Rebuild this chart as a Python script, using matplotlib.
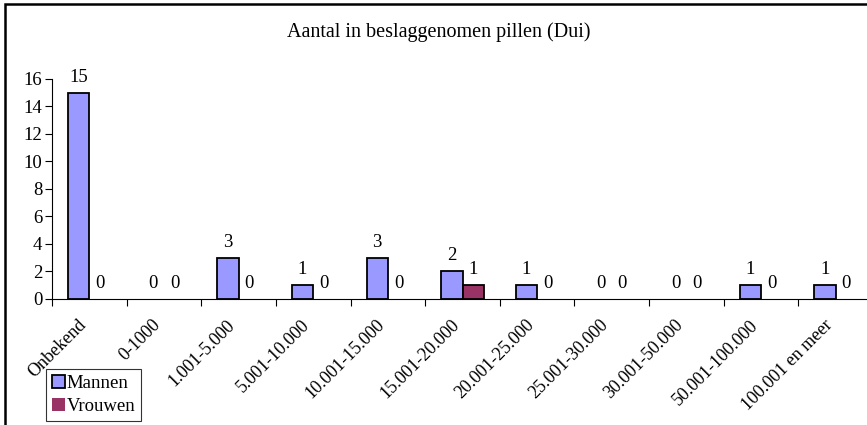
import matplotlib
matplotlib.use("Agg")
import matplotlib.pyplot as plt
import matplotlib.transforms as mtransforms
import numpy as np
from matplotlib.patches import Rectangle

categories = ["Onbekend", "0-1000", "1.001-5.000", "5.001-10.000", "10.001-15.000",
              "15.001-20.000", "20.001-25.000", "25.001-30.000", "30.001-50.000",
              "50.001-100.000", "100.001 en meer"]
mannen = [15, 0, 3, 1, 3, 2, 1, 0, 0, 1, 1]
vrouwen = [0, 0, 0, 0, 0, 1, 0, 0, 0, 0, 0]
title = "Aantal in beslaggenomen pillen (Dui)"

plt.rcParams["font.family"] = ["Liberation Serif", "DejaVu Serif"]
FS = 13.5

W, H = 867, 425
fig = plt.figure(figsize=(W / 100, H / 100), dpi=100)
ax = fig.add_axes([52 / W, 1 - 298.7 / H, 821 / W, (298.7 - 79) / H])

x = np.arange(len(categories))
w = 1 / 3.5
b1 = ax.bar(x - w / 2, mannen, w, color="#9999FF", edgecolor="black", lw=1.3, label="Mannen")
b2 = ax.bar(x + w / 2, vrouwen, w, color="#993366", edgecolor="black", lw=1.3, label="Vrouwen")
for bars in (b1, b2):
    for p in bars:
        if p.get_height() == 0:
            p.set_linewidth(0)
    ax.bar_label(bars, padding=5, fontsize=FS)

ax.set_xlim(-0.5, len(categories) - 0.5)
ax.set_ylim(0, 16)
ax.set_yticks(range(0, 17, 2))
ax.set_xticks(np.arange(len(categories) + 1) - 0.5, minor=False)
ax.set_xticklabels([])
ax.set_xticks(x, minor=True)
ax.set_xticklabels(categories, minor=True, rotation=45, ha="right", rotation_mode="anchor",
                   fontsize=13)
ax.tick_params(axis="x", which="minor", length=0, pad=10)
ax.tick_params(axis="x", which="major", length=5, direction="out")
ax.tick_params(axis="y", length=5, direction="out", labelsize=FS, pad=2)
# nudge the slanted labels left/down like the original
shift = mtransforms.ScaledTranslation(-12 / 100, -4 / 100, fig.dpi_scale_trans)
for lab in ax.get_xticklabels(minor=True):
    lab.set_transform(lab.get_transform() + shift)
for s in ("top", "right"):
    ax.spines[s].set_visible(False)
ax.patch.set_alpha(0)

fig.text(439 / W, 1 - 32 / H, title, ha="center", va="center", fontsize=14.5)

leg = fig.legend(handles=[b1, b2], loc="upper left", bbox_to_anchor=(46 / W, 1 - 369 / H),
                 fontsize=FS, frameon=True, fancybox=False, edgecolor="black",
                 handlelength=0.7, handleheight=0.7, handletextpad=0.1, borderpad=0.3,
                 labelspacing=0.35, borderaxespad=0)
leg.get_frame().set_linewidth(0.8)

fig.add_artist(Rectangle((5 / W, -0.1), 1.1, 1.1 - 4.5 / H, transform=fig.transFigure,
                         fill=False, edgecolor="black", lw=1.8))

fig.savefig("out.png", dpi=100)
